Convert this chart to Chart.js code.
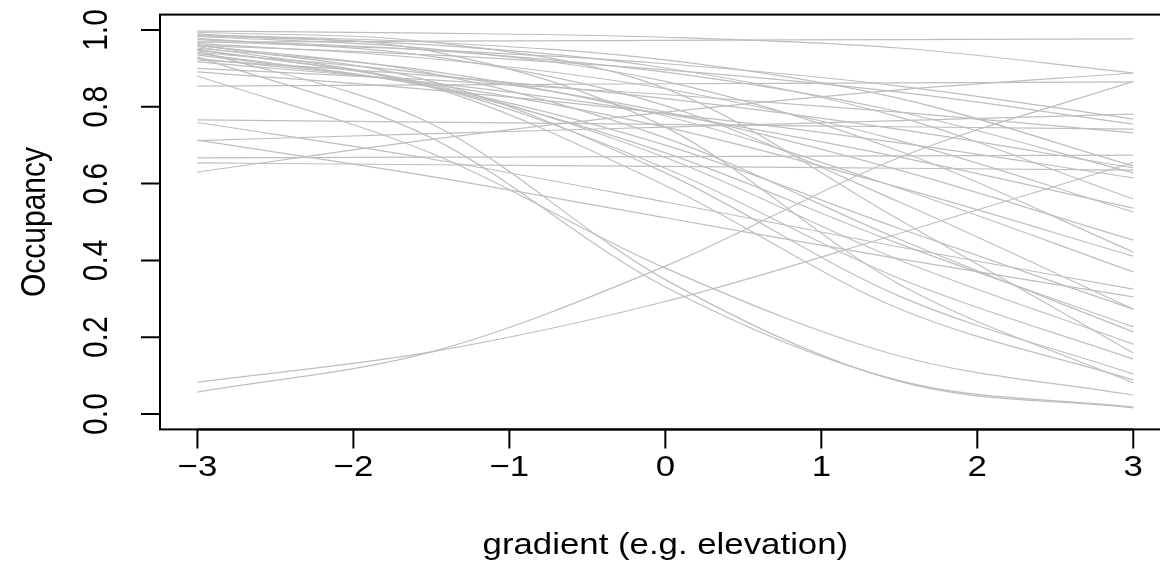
<!DOCTYPE html>
<html>
<head>
<meta charset="utf-8">
<script src="https://cdn.jsdelivr.net/npm/chart.js@4.4.0/dist/chart.umd.min.js"></script>
<style>
  html, body { margin: 0; padding: 0; background: #fff; overflow: hidden; }
  #wrap { width: 1180px; height: 581px; }
</style>
</head>
<body>
<div id="wrap"><canvas id="grafico" width="1180" height="581"></canvas></div>
<script>
const gradiente = [-3, -1.5, 0, 1.5, 3];

// occupancy read at the gradient points above, one row per curve
const ocupacion = [
    [0.968, 0.971, 0.973, 0.975, 0.977],
    [0.997, 0.992, 0.981, 0.953, 0.888],
    [0.630, 0.715, 0.786, 0.844, 0.888],
    [0.854, 0.857, 0.860, 0.862, 0.865],
    [0.057, 0.162, 0.385, 0.668, 0.866],
    [0.083, 0.162, 0.293, 0.470, 0.655],
    [0.712, 0.730, 0.747, 0.764, 0.781],
    [0.713, 0.618, 0.511, 0.404, 0.305],
    [0.766, 0.760, 0.754, 0.748, 0.742],
    [0.759, 0.664, 0.552, 0.435, 0.325],
    [0.667, 0.669, 0.670, 0.672, 0.674],
    [0.654, 0.649, 0.645, 0.640, 0.635],
    [0.970, 0.948, 0.912, 0.854, 0.768],
    [0.960, 0.935, 0.896, 0.838, 0.755],
    [0.900, 0.870, 0.832, 0.786, 0.732],
    [0.987, 0.968, 0.922, 0.822, 0.646],
    [0.922, 0.881, 0.821, 0.741, 0.641],
    [0.975, 0.947, 0.890, 0.787, 0.628],
    [0.891, 0.844, 0.783, 0.706, 0.615],
    [0.985, 0.961, 0.901, 0.773, 0.560],
    [0.917, 0.862, 0.781, 0.669, 0.536],
    [0.965, 0.925, 0.847, 0.712, 0.526],
    [0.942, 0.885, 0.786, 0.635, 0.453],
    [0.983, 0.951, 0.866, 0.685, 0.422],
    [0.926, 0.859, 0.747, 0.590, 0.411],
    [0.953, 0.893, 0.776, 0.588, 0.370],
    [0.935, 0.853, 0.700, 0.483, 0.273],
    [0.978, 0.931, 0.803, 0.552, 0.273],
    [0.939, 0.851, 0.680, 0.443, 0.227],
    [0.960, 0.887, 0.719, 0.455, 0.214],
    [0.948, 0.858, 0.668, 0.401, 0.182],
    [0.994, 0.968, 0.848, 0.506, 0.159],
    [0.950, 0.853, 0.640, 0.353, 0.143],
    [0.961, 0.866, 0.628, 0.307, 0.104],
    [0.957, 0.851, 0.595, 0.274, 0.089],
    [0.990, 0.945, 0.747, 0.338, 0.081],
    [0.880, 0.679, 0.380, 0.151, 0.049],
    [0.930, 0.719, 0.331, 0.087, 0.018],
    [0.947, 0.756, 0.350, 0.085, 0.016]
];

const ticksX = [-3, -2, -1, 0, 1, 2, 3];
const etiquetasX = ["\u22123", "\u22122", "\u22121", "0", "1", "2", "3"];
const ticksY = [0, 0.2, 0.4, 0.6, 0.8, 1.0];
const etiquetasY = ["0.0", "0.2", "0.4", "0.6", "0.8", "1.0"];

const tituloX = "gradient (e.g. elevation)";
const tituloY = "Occupancy";

const fuente = "30px 'Liberation Sans', Arial, sans-serif";
const estiramiento = 1.16; // the reference text is a bit wider than tall

function texto(ctx, str, x, y, vertical) {
    ctx.save();
    ctx.translate(x, y);
    if (vertical) {
        ctx.rotate(-Math.PI / 2);
        ctx.scale(1, estiramiento);
    } else {
        ctx.scale(estiramiento, 1);
    }
    ctx.fillText(str, 0, 0);
    ctx.restore();
}

// R style box and axes, drawn with the chart's own scales
const ejesR = {
    id: "ejesR",
    afterDraw(chart) {
        const ctx = chart.ctx;
        const area = chart.chartArea;
        const sx = chart.scales.x;
        const sy = chart.scales.y;
        ctx.save();
        ctx.strokeStyle = "#000";
        ctx.fillStyle = "#000";
        ctx.lineWidth = 2;
        ctx.strokeRect(area.left, area.top, area.right - area.left, area.bottom - area.top);

        // x axis
        const x0 = sx.getPixelForValue(ticksX[0]);
        const x1 = sx.getPixelForValue(ticksX[ticksX.length - 1]);
        ctx.beginPath();
        ctx.moveTo(x0, area.bottom);
        ctx.lineTo(x1, area.bottom);
        ticksX.forEach((t) => {
            const px = sx.getPixelForValue(t);
            ctx.moveTo(px, area.bottom);
            ctx.lineTo(px, area.bottom + 19);
        });
        // y axis
        const y0 = sy.getPixelForValue(ticksY[0]);
        const y1 = sy.getPixelForValue(ticksY[ticksY.length - 1]);
        ctx.moveTo(area.left, y0);
        ctx.lineTo(area.left, y1);
        ticksY.forEach((t) => {
            const py = sy.getPixelForValue(t);
            ctx.moveTo(area.left, py);
            ctx.lineTo(area.left - 19, py);
        });
        ctx.stroke();

        ctx.font = fuente;
        ctx.textAlign = "center";
        ctx.textBaseline = "middle";
        ticksX.forEach((t, i) => {
            texto(ctx, etiquetasX[i], sx.getPixelForValue(t), area.bottom + 38, false);
        });
        texto(ctx, tituloX, sx.getPixelForValue(0), area.bottom + 116, false);

        ticksY.forEach((t, i) => {
            texto(ctx, etiquetasY[i], area.left - 63, sy.getPixelForValue(t), true);
        });
        texto(ctx, tituloY, area.left - 125, (area.top + area.bottom) / 2, true);
        ctx.restore();
    }
};

function generarGrafico() {
    const ctx = document.getElementById("grafico").getContext("2d");
    const datasets = ocupacion.map((fila) => ({
        data: fila.map((v, i) => ({ x: gradiente[i], y: v })),
        borderColor: "#bebebe",
        borderWidth: 1.2,
        pointRadius: 0,
        fill: false,
        cubicInterpolationMode: "monotone"
    }));

    new Chart(ctx, {
        type: "line",
        data: { datasets: datasets },
        options: {
            responsive: false,
            animation: false,
            events: [],
            layout: { padding: { left: 160, right: 9.3, top: 14.6, bottom: 151.6 } },
            plugins: { legend: { display: false }, tooltip: { enabled: false } },
            scales: {
                x: { type: "linear", min: -3.24, max: 3.24, display: false },
                y: { type: "linear", min: -0.04, max: 1.04, display: false }
            }
        },
        plugins: [ejesR]
    });
}

generarGrafico();
</script>
</body>
</html>
